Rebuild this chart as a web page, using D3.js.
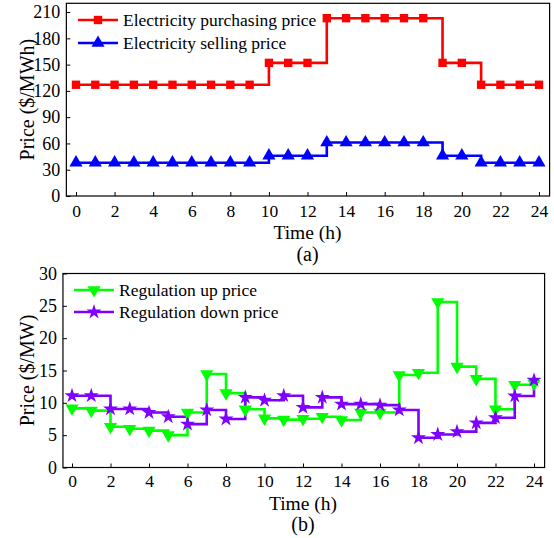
<!DOCTYPE html>
<html><head><meta charset="utf-8">
<script src="https://cdn.jsdelivr.net/npm/d3@7"></script>
<style>body{margin:0;background:#fff;} svg{display:block;} text{font-family:"Liberation Serif","Times New Roman",serif;}</style>
</head><body><svg id="c" width="554" height="538"></svg>
<script>
const hours = d3.range(0, 25);
const purchasePrice = [127,127,127,127,127,127,127,127,127,127,152,152,152,203,203,203,203,203,203,152,152,127,127,127,127];
const sellPrice = [38,38,38,38,38,38,38,38,38,38,46,46,46,61,61,61,61,61,61,46,46,38,38,38,38];
const regUpPrice = [9.15,8.8,6.3,6.0,5.7,5.0,8.5,14.45,11.5,9.0,7.6,7.4,7.55,7.85,7.35,8.5,8.5,14.3,14.65,25.6,15.6,13.7,9.0,12.8,13.0];
const regDownPrice = [11.1,11.1,9.05,9.05,8.5,7.85,6.7,8.9,7.5,10.85,10.4,11.1,9.3,10.85,9.8,9.8,9.65,8.9,4.6,5.1,5.55,6.9,7.7,11.05,13.5];
const xTicks = d3.range(0, 25, 2);
const yTicksA = d3.range(0, 211, 30);
const yTicksB = d3.range(0, 31, 5);

const svg = d3.select("#c");
const FONT = "Liberation Serif";

function panel(cfg) {
  const g = svg.append("g");
  const x = d3.scaleLinear().domain([0, 24]).range([cfg.x0, cfg.x24]);
  const y = d3.scaleLinear().domain(cfg.yDomain).range([cfg.yBottom, cfg.yTop]);
  const L = x(cfg.xMin), R = x(cfg.xMax), B = y(cfg.yDomain[0]), T = y(cfg.yDomain[1]);

  const xa = g.append("g").attr("transform", `translate(0,${B})`)
    .call(d3.axisBottom(x).tickValues(xTicks).tickSizeInner(-4).tickSizeOuter(0).tickPadding(cfg.xPad));
  xa.select(".domain").remove();
  xa.selectAll("text").attr("font-size", 17.5).attr("font-family", FONT).attr("fill", "#000");
  xa.selectAll("line").attr("stroke", "#000");
  const ya = g.append("g").attr("transform", `translate(${L},0)`)
    .call(d3.axisLeft(y).tickValues(cfg.yTicks).tickSizeInner(-4).tickSizeOuter(0).tickPadding(6));
  ya.select(".domain").remove();
  ya.selectAll("text").attr("font-size", 18).attr("font-family", FONT).attr("fill", "#000");
  ya.selectAll("line").attr("stroke", "#000");

  const line = d3.line().x((d, i) => x(hours[i])).y(d => y(d)).curve(d3.curveStepAfter);
  cfg.series.forEach(s => {
    g.append("path").datum(s.values).attr("d", line).attr("fill", "none")
      .attr("stroke", s.color).attr("stroke-width", 2.6);
  });
  cfg.series.forEach(s => {
    const sym = d3.symbol().type(s.symbol).size(s.size);
    g.selectAll(null).data(s.values).enter().append("path")
      .attr("d", sym).attr("fill", s.color)
      .attr("transform", (d, i) => `translate(${x(hours[i])},${y(d)})${s.rot ? " rotate(" + s.rot + ")" : ""}`);
  });

  g.append("rect").attr("x", L).attr("y", T).attr("width", R - L).attr("height", B - T)
    .attr("fill", "none").attr("stroke", "#000").attr("stroke-width", 1.2);

  cfg.series.forEach((s, i) => {
    const ly = cfg.legY[i];
    g.append("line").attr("x1", cfg.legX).attr("x2", cfg.legX + 40).attr("y1", ly).attr("y2", ly)
      .attr("stroke", s.color).attr("stroke-width", 2.6);
    g.append("path").attr("d", d3.symbol().type(s.symbol).size(s.size))
      .attr("fill", s.color)
      .attr("transform", `translate(${cfg.legX + 20},${ly})${s.rot ? " rotate(" + s.rot + ")" : ""}`);
    g.append("text").attr("x", cfg.legX + 45).attr("y", ly).attr("dy", "0.33em")
      .attr("font-size", 17.5).text(s.name);
  });

  const cx = (x(0) + x(24)) / 2;
  g.append("text").attr("x", cx).attr("y", cfg.xTitleY).attr("text-anchor", "middle")
    .attr("font-size", 19.5).text("Time (h)");
  g.append("text").attr("x", cx).attr("y", cfg.capY).attr("text-anchor", "middle")
    .attr("font-size", 20).text(cfg.caption);
  g.append("text").attr("transform", `translate(${cfg.yTitleX},${(T + B) / 2}) rotate(-90)`)
    .attr("text-anchor", "middle").attr("font-size", 20).text(cfg.yTitle);
}

panel({
  x0: 76, x24: 539, xMin: -0.5, xMax: 24.55,
  yDomain: [0, 220], yBottom: 196, yTop: 3.3, yTicks: yTicksA, xPad: 9,
  series: [
    {name: "Electricity purchasing price", values: purchasePrice, color: "#ff0000", symbol: d3.symbolSquare, size: 70},
    {name: "Electricity selling price", values: sellPrice, color: "#0000ff", symbol: d3.symbolTriangle, size: 75}
  ],
  legX: 78, legY: [20, 43],
  xTitleY: 238.5, capY: 261, yTitleX: 34, yTitle: "Price ($/MWh)", caption: "(a)"
});

panel({
  x0: 72, x24: 534, xMin: -0.47, xMax: 24.55,
  yDomain: [0, 30], yBottom: 467.5, yTop: 273.5, yTicks: yTicksB, xPad: 7.5,
  series: [
    {name: "Regulation up price", values: regUpPrice, color: "#00ff00", symbol: d3.symbolTriangle, size: 75, rot: 180},
    {name: "Regulation down price", values: regDownPrice, color: "#7f00ff", symbol: d3.symbolStar, size: 70}
  ],
  legX: 74, legY: [290, 312],
  xTitleY: 509.5, capY: 531, yTitleX: 34, yTitle: "Price ($/MW)", caption: "(b)"
});
</script></body></html>
